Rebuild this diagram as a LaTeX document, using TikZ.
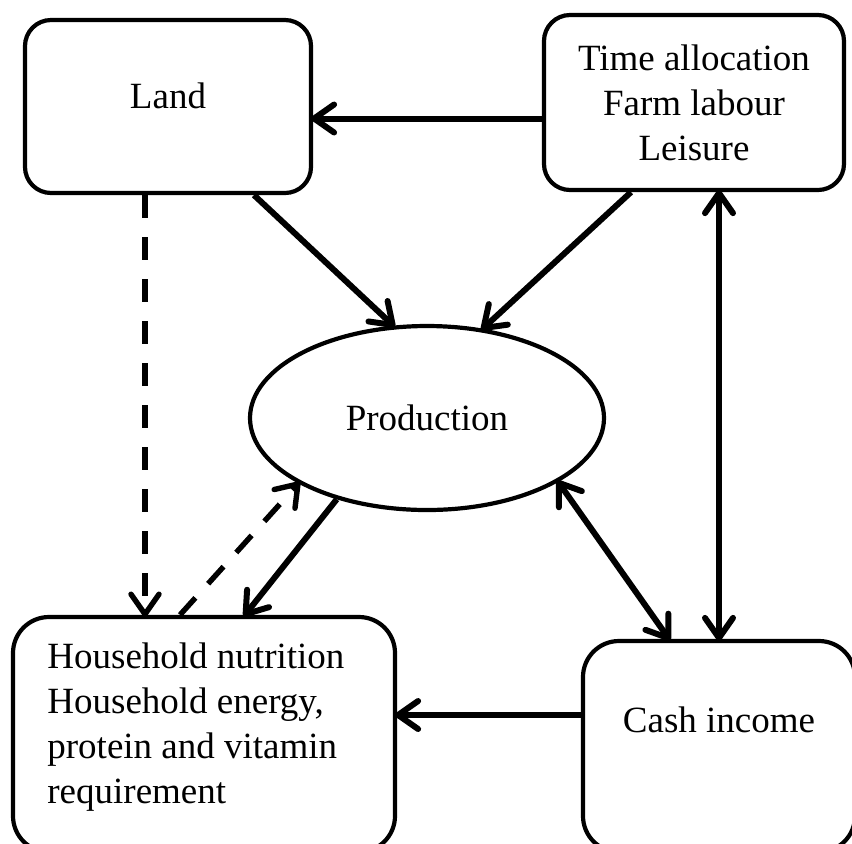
\documentclass[tikz,border=0pt]{standalone}
\usepackage{fontspec}
\setmainfont{Liberation Serif}
\usetikzlibrary{arrows.meta, shapes.geometric}
\tikzstyle{box}=[draw, line width=2.1pt, rounded corners=13pt, inner sep=0]
\tikzstyle{oval}=[draw, ellipse, line width=2.1pt, inner sep=0, minimum width=177pt, minimum height=92pt]
\tikzstyle{lbl}=[font=\fontsize{18.5pt}{22.5pt}\selectfont, inner sep=0]
\tikzstyle{arr}=[line width=3pt, shorten >=-1pt, -{Straight Barb[length=10pt, width=14pt, round]}]
\tikzstyle{dbl}=[line width=3pt, shorten >=-1pt, shorten <=-1pt, {Straight Barb[length=10pt, width=14pt, round]}-{Straight Barb[length=10pt, width=14pt, round]}]
\tikzstyle{dsh}=[arr, line width=2.7pt, dash pattern=on 11.5pt off 9.5pt]

\begin{document}
\begin{tikzpicture}[x=.5pt, y=-.5pt]
\clip (0,0) rectangle (852,843);
\fill[white] (0,0) rectangle (852,843);
\node at (168,106.5)[box, minimum width=143pt, minimum height=86.5pt](land){};
\node at (694,102.5)[box, minimum width=150pt, minimum height=87.5pt, lbl, align=center](time){Time allocation\\Farm labour\\Leisure};
\node at (427,418)[oval, lbl](prod){Production};
\node at (204,734.5)[box, rounded corners=18pt, minimum width=191pt, minimum height=117.5pt](hh){};
\node at (719,746.5)[box, rounded corners=18pt, minimum width=136pt, minimum height=105.5pt](cash){};
\node at (168,96)[lbl](landtxt){Land};
\node at (719,720)[lbl](cashtxt){Cash income};
\node at (47,727)[lbl, anchor=west, align=left](hhtxt){Household nutrition\\Household energy,\\protein and vitamin\\requirement};
\draw[arr] ([yshift=-8pt]time.west)--([yshift=-8pt]time.west -| land.east);
\draw[arr] ([xshift=43pt]land.south)--(prod.110);
\draw[arr] ([xshift=-31.5pt]time.south)--(prod.58);
\draw[dbl] ([xshift=12.5pt]time.south)--([xshift=12.5pt]time.south |- cash.north);
\draw[dbl] (prod.-26)--([xshift=-25pt]cash.north);
\draw[arr] ([yshift=15.75pt]cash.west)--([yshift=15.75pt]cash.west -| hh.east);
\draw[dsh] ([xshift=-11.5pt]land.south)--([xshift=-11.5pt]land.south |- hh.north);
\draw[dsh] ([xshift=-12pt]hh.north)--(prod.207);
\draw[arr] (prod.222)--([xshift=20.5pt]hh.north);
\end{tikzpicture}
\end{document}
